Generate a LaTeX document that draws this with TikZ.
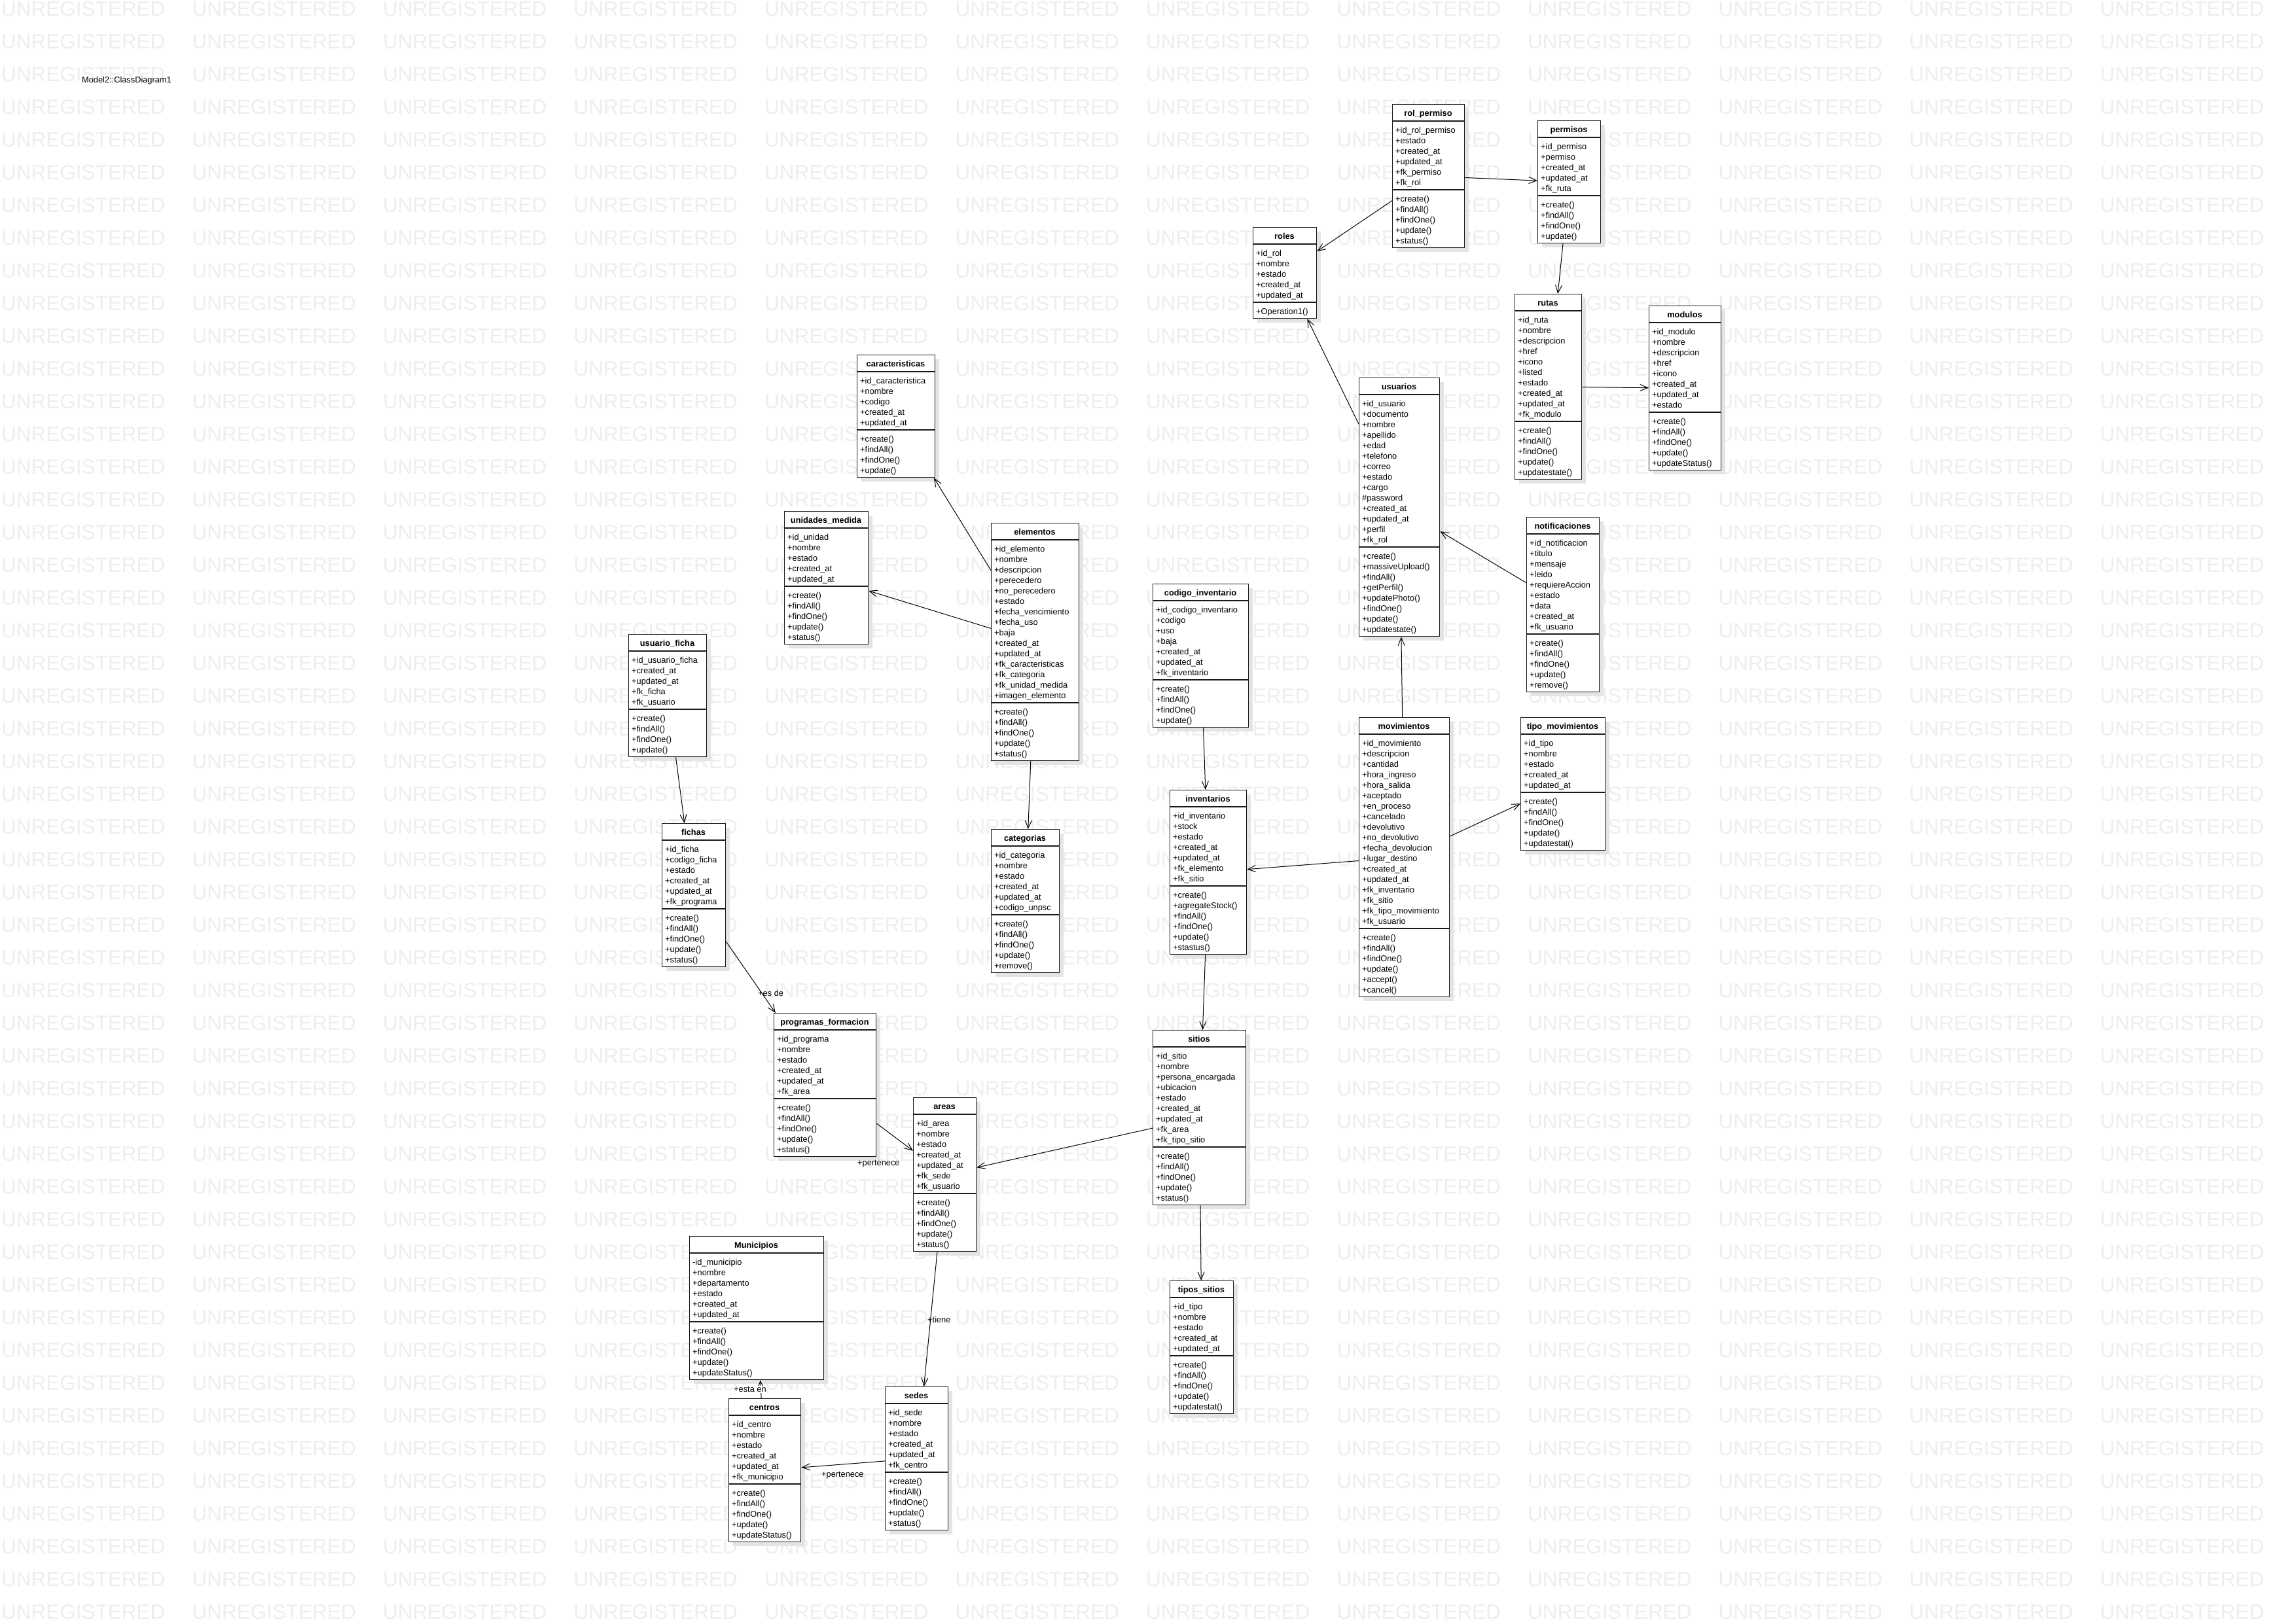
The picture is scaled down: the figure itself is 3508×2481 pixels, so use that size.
\documentclass[tikz,border=0pt]{standalone}
\usepackage{fontspec}
\setmainfont{Liberation Sans}
\usetikzlibrary{arrows.meta}
\definecolor{wmgray}{RGB}{238,238,238}
\definecolor{shgray}{RGB}{228,228,228}
\tikzset{
  classbox/.style={draw=black!90, fill=white, line width=1.3pt, inner sep=0pt, rectangle},
  divline/.style={draw=black!90, line width=1.2pt},
  titletext/.style={anchor=base, inner sep=0pt, font=\fontsize{12.8}{16}\selectfont\bfseries},
  itemtext/.style={anchor=base west, inner sep=0pt, font=\fontsize{12.8}{16}\selectfont},
  wmtext/.style={anchor=base west, inner sep=0pt, text=wmgray, font=\fontsize{31.5}{32}\selectfont},
  assoc/.style={draw=black, line width=1pt, -{Straight Barb[length=12pt,width=10pt]}},
  rolelabel/.style={anchor=base west, inner sep=0pt, font=\fontsize{12.8}{16}\selectfont},
}
\newcommand\umlclass[9]{%
  \pgfmathsetmacro\hdiv{#4+26}%
  \pgfmathsetmacro\adiv{\hdiv+16*#6+9}%
  \pgfmathsetmacro\ybot{\adiv+16*#7+8}%
  \fill[shgray] ({#2+7},{#4+7}) rectangle ({#3+7},{\ybot+7});
  \node[classbox, minimum width={#3-#2}, minimum height={\ybot-#4}, anchor=north west] (#1) at (#2,#4) {};
  \draw[divline] (#2,\hdiv) -- (#3,\hdiv);
  \draw[divline] (#2,\adiv) -- (#3,\adiv);
  \node[titletext] (#1-title) at ({(#2+#3)/2},{#4+18}) {#5};
  \foreach \t [count=\k] in {#8} {\node[itemtext] (#1-a\k) at ({#2+5},{\hdiv+18+16*(\k-1)}) {\t};}
  \foreach \t [count=\k] in {#9} {\node[itemtext] (#1-o\k) at ({#2+5},{\adiv+18+16*(\k-1)}) {\t};}
}
\begin{document}
\begin{tikzpicture}[x=1pt,y=-1pt]
\useasboundingbox (0,0) rectangle (3508,2481);
\fill[white] (0,0) rectangle (3508,2481);
% watermark
\foreach \i in {0,...,11} {\foreach \j in {0,...,49} {\node[wmtext] (wm-\i-\j) at ({2+291.5*\i},{24.5+50*\j}) {UNREGISTERED};}}
\node[itemtext] (diagtitle) at (125,126.5) {Model2::ClassDiagram1};
% classes
\umlclass{rp}{2127}{2237}{159}{rol\_permiso}{6}{5}
  {+id\_rol\_permiso,+estado,+created\_at,+updated\_at,+fk\_permiso,+fk\_rol}
  {+create(),+findAll(),+findOne(),+update(),+status()}
\umlclass{pe}{2349}{2445}{184}{permisos}{5}{4}
  {+id\_permiso,+permiso,+created\_at,+updated\_at,+fk\_ruta}
  {+create(),+findAll(),+findOne(),+update()}
\umlclass{ro}{1914}{2011}{347}{roles}{5}{1}
  {+id\_rol,+nombre,+estado,+created\_at,+updated\_at}
  {+Operation1()}
\umlclass{ru}{2314}{2416}{449}{rutas}{10}{5}
  {+id\_ruta,+nombre,+descripcion,+href,+icono,+listed,+estado,+created\_at,+updated\_at,+fk\_modulo}
  {+create(),+findAll(),+findOne(),+update(),+updatestate()}
\umlclass{mo}{2519}{2629}{467}{modulos}{8}{5}
  {+id\_modulo,+nombre,+descripcion,+href,+icono,+created\_at,+updated\_at,+estado}
  {+create(),+findAll(),+findOne(),+update(),+updateStatus()}
\umlclass{us}{2076}{2199}{577}{usuarios}{14}{8}
  {+id\_usuario,+documento,+nombre,+apellido,+edad,+telefono,+correo,+estado,+cargo,\#password,+created\_at,+updated\_at,+perfil,+fk\_rol}
  {+create(),+massiveUpload(),+findAll(),+getPerfil(),+updatePhoto(),+findOne(),+update(),+updatestate()}
\umlclass{nt}{2332}{2443}{790}{notificaciones}{9}{5}
  {+id\_notificacion,+titulo,+mensaje,+leido,+requiereAccion,+estado,+data,+created\_at,+fk\_usuario}
  {+create(),+findAll(),+findOne(),+update(),+remove()}
\umlclass{ca}{1309}{1428}{542}{caracteristicas}{5}{4}
  {+id\_caracteristica,+nombre,+codigo,+created\_at,+updated\_at}
  {+create(),+findAll(),+findOne(),+update()}
\umlclass{um}{1198}{1326}{781}{unidades\_medida}{5}{5}
  {+id\_unidad,+nombre,+estado,+created\_at,+updated\_at}
  {+create(),+findAll(),+findOne(),+update(),+status()}
\umlclass{el}{1514}{1648}{799}{elementos}{15}{5}
  {+id\_elemento,+nombre,+descripcion,+perecedero,+no\_perecedero,+estado,+fecha\_vencimiento,+fecha\_uso,+baja,+created\_at,+updated\_at,+fk\_caracteristicas,+fk\_categoria,+fk\_unidad\_medida,+imagen\_elemento}
  {+create(),+findAll(),+findOne(),+update(),+status()}
\umlclass{uf}{960}{1079}{969}{usuario\_ficha}{5}{4}
  {+id\_usuario\_ficha,+created\_at,+updated\_at,+fk\_ficha,+fk\_usuario}
  {+create(),+findAll(),+findOne(),+update()}
\umlclass{fi}{1011}{1108}{1258}{fichas}{6}{5}
  {+id\_ficha,+codigo\_ficha,+estado,+created\_at,+updated\_at,+fk\_programa}
  {+create(),+findAll(),+findOne(),+update(),+status()}
\umlclass{cg}{1514}{1618}{1267}{categorias}{6}{5}
  {+id\_categoria,+nombre,+estado,+created\_at,+updated\_at,+codigo\_unpsc}
  {+create(),+findAll(),+findOne(),+update(),+remove()}
\umlclass{ci}{1761}{1907}{892}{codigo\_inventario}{7}{4}
  {+id\_codigo\_inventario,+codigo,+uso,+baja,+created\_at,+updated\_at,+fk\_inventario}
  {+create(),+findAll(),+findOne(),+update()}
\umlclass{inv}{1787}{1904}{1207}{inventarios}{7}{6}
  {+id\_inventario,+stock,+estado,+created\_at,+updated\_at,+fk\_elemento,+fk\_sitio}
  {+create(),+agregateStock(),+findAll(),+findOne(),+update(),+stastus()}
\umlclass{mv}{2076}{2214}{1096}{movimientos}{18}{6}
  {+id\_movimiento,+descripcion,+cantidad,+hora\_ingreso,+hora\_salida,+aceptado,+en\_proceso,+cancelado,+devolutivo,+no\_devolutivo,+fecha\_devolucion,+lugar\_destino,+created\_at,+updated\_at,+fk\_inventario,+fk\_sitio,+fk\_tipo\_movimiento,+fk\_usuario}
  {+create(),+findAll(),+findOne(),+update(),+accept(),+cancel()}
\umlclass{tm}{2323}{2452}{1096}{tipo\_movimientos}{5}{5}
  {+id\_tipo,+nombre,+estado,+created\_at,+updated\_at}
  {+create(),+findAll(),+findOne(),+update(),+updatestat()}
\umlclass{pf}{1182}{1338}{1548}{programas\_formacion}{6}{5}
  {+id\_programa,+nombre,+estado,+created\_at,+updated\_at,+fk\_area}
  {+create(),+findAll(),+findOne(),+update(),+status()}
\umlclass{ar}{1395}{1491}{1677}{areas}{7}{5}
  {+id\_area,+nombre,+estado,+created\_at,+updated\_at,+fk\_sede,+fk\_usuario}
  {+create(),+findAll(),+findOne(),+update(),+status()}
\umlclass{si}{1761}{1903}{1574}{sitios}{9}{5}
  {+id\_sitio,+nombre,+persona\_encargada,+ubicacion,+estado,+created\_at,+updated\_at,+fk\_area,+fk\_tipo\_sitio}
  {+create(),+findAll(),+findOne(),+update(),+status()}
\umlclass{ts}{1787}{1884}{1957}{tipos\_sitios}{5}{5}
  {+id\_tipo,+nombre,+estado,+created\_at,+updated\_at}
  {+create(),+findAll(),+findOne(),+update(),+updatestat()}
\umlclass{mu}{1053}{1258}{1889}{Municipios}{6}{5}
  {-id\_municipio,+nombre,+departamento,+estado,+created\_at,+updated\_at}
  {+create(),+findAll(),+findOne(),+update(),+updateStatus()}
\umlclass{ce}{1113}{1223}{2137}{centros}{6}{5}
  {+id\_centro,+nombre,+estado,+created\_at,+updated\_at,+fk\_municipio}
  {+create(),+findAll(),+findOne(),+update(),+updateStatus()}
\umlclass{se}{1352}{1448}{2119}{sedes}{6}{5}
  {+id\_sede,+nombre,+estado,+created\_at,+updated\_at,+fk\_centro}
  {+create(),+findAll(),+findOne(),+update(),+status()}
% connectors
\draw[assoc] (rp) -- (ro);
\draw[assoc] (rp) -- (pe);
\draw[assoc] (pe) -- (ru);
\draw[assoc] (ru) -- (mo);
\draw[assoc] (us) -- (ro);
\draw[assoc] (nt) -- (us);
\draw[assoc] (mv) -- (us);
\draw[assoc] (mv) -- (tm);
\draw[assoc] (mv) -- (inv);
\draw[assoc] (ci) -- (inv);
\draw[assoc] (el) -- (ca);
\draw[assoc] (el) -- (um);
\draw[assoc] (el) -- (cg);
\draw[assoc] (uf) -- (fi);
\draw[assoc] (fi) -- (pf);
\draw[assoc] (pf) -- (ar);
\draw[assoc] (si) -- (ar);
\draw[assoc] (inv) -- (si);
\draw[assoc] (si) -- (ts);
\draw[assoc] (ar) -- (se);
\draw[assoc] (ce) -- (mu);
\draw[assoc] (se) -- (ce);
% role labels
\node[rolelabel] (lbl-esde) at (1158,1522) {+es de};
\node[rolelabel] (lbl-pert1) at (1310,1781.5) {+pertenece};
\node[rolelabel] (lbl-tiene) at (1417,2021.5) {+tiene};
\node[rolelabel, fill=white, inner sep=1pt] (lbl-estaen) at (1120,2127.5) {+esta en};
\node[rolelabel] (lbl-pert2) at (1255,2257.5) {+pertenece};
\end{tikzpicture}
\end{document}
